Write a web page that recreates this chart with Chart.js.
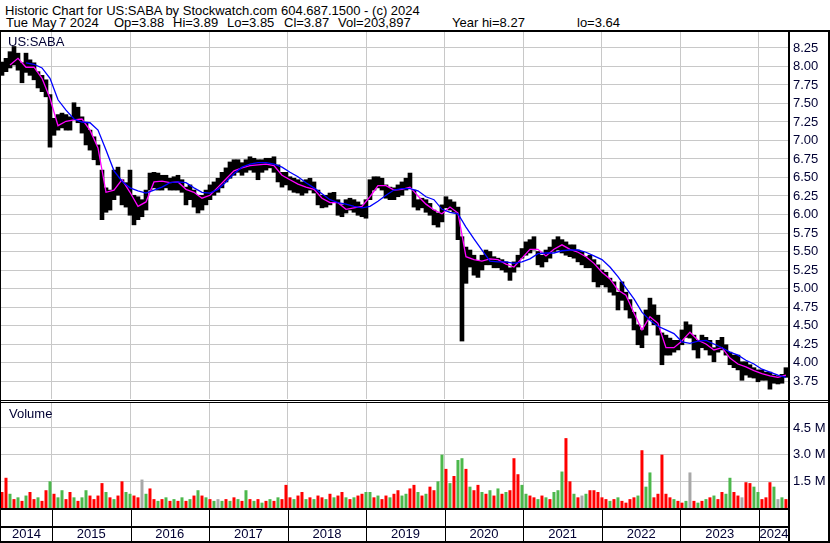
<!DOCTYPE html>
<html><head><meta charset="utf-8">
<script src="https://cdn.jsdelivr.net/npm/chart.js@4.4.1/dist/chart.umd.min.js"></script>
<style>
html,body{margin:0;padding:0;background:#fff;}
#wrap{position:relative;width:830px;height:543px;overflow:hidden;font-family:"Liberation Sans",Arial,sans-serif;}
canvas{position:absolute;left:0;}
#c1{top:30px;} #c2{top:400px;}
.t{position:absolute;white-space:pre;font-size:13px;line-height:13px;}
</style></head><body>
<div id="wrap">
<canvas id="c1" width="830" height="370"></canvas>
<canvas id="c2" width="830" height="143"></canvas>
<div class="t" style="left:5px;top:4px;color:#000">Historic Chart for US:SABA by Stockwatch.com 604.687.1500 - (c) 2024</div>
<div class="t" style="left:6px;top:16px;color:#000">Tue</div>
<div class="t" style="left:32px;top:16px;color:#000">May</div>
<div class="t" style="left:59px;top:16px;color:#000">7 2024</div>
<div class="t" style="left:114px;top:16px;color:#000">Op=3.88</div>
<div class="t" style="left:173px;top:16px;color:#000">Hi=3.89</div>
<div class="t" style="left:227px;top:16px;color:#000">Lo=3.85</div>
<div class="t" style="left:284px;top:16px;color:#000">Cl=3.87</div>
<div class="t" style="left:338px;top:16px;color:#000">Vol=203,897</div>
<div class="t" style="left:452px;top:16px;color:#000">Year hi=8.27</div>
<div class="t" style="left:577px;top:16px;color:#000">lo=3.64</div>
<div class="t" style="left:8px;top:35px;color:#000033">US:SABA</div>
<div class="t" style="left:9px;top:407px;color:#000033">Volume</div>
</div>
<script>
// ---- data ----
const startDate = 2014.3635;   // first bar (fractional year)
const barStep = 0.050916;      // years between bars
const hi = [8.06,8.11,8.20,8.27,8.18,8.05,8.18,8.09,8.05,7.93,
7.88,7.82,7.62,7.30,7.35,7.37,7.35,7.32,7.51,7.45,
7.32,7.24,7.14,7.05,6.94,6.60,6.36,6.33,6.60,6.64,
6.47,6.43,6.60,6.26,6.24,6.20,6.33,6.56,6.57,6.56,
6.53,6.53,6.49,6.51,6.53,6.47,6.37,6.40,6.33,6.26,
6.26,6.33,6.40,6.44,6.49,6.57,6.63,6.71,6.74,6.74,
6.70,6.74,6.78,6.76,6.74,6.74,6.76,6.76,6.78,6.67,
6.57,6.57,6.51,6.49,6.47,6.44,6.47,6.49,6.44,6.33,
6.26,6.26,6.29,6.30,6.20,6.13,6.20,6.22,6.20,6.17,
6.13,6.20,6.47,6.51,6.51,6.49,6.40,6.37,6.36,6.40,
6.44,6.49,6.56,6.33,6.20,6.22,6.20,6.15,6.06,6.02,
6.13,6.24,6.20,6.17,6.10,5.70,5.56,5.52,5.45,5.38,
5.45,5.52,5.50,5.43,5.41,5.39,5.36,5.28,5.36,5.45,
5.54,5.63,5.66,5.70,5.50,5.45,5.52,5.56,5.66,5.70,
5.66,5.63,5.59,5.59,5.52,5.50,5.43,5.45,5.39,5.32,
5.25,5.22,5.14,5.09,4.95,5.09,4.95,4.85,4.68,4.51,
4.44,4.71,4.87,4.78,4.64,4.40,4.37,4.33,4.30,4.30,
4.44,4.55,4.51,4.37,4.30,4.37,4.34,4.30,4.20,4.30,
4.34,4.24,4.14,4.10,4.10,4.01,4.01,3.97,3.93,3.90,
3.90,3.87,3.87,3.83,3.82,3.84,3.93];
const lo = [7.88,7.93,7.98,8.02,7.95,7.78,7.92,7.88,7.82,7.71,
7.66,7.59,6.91,7.07,7.14,7.17,7.14,7.14,7.28,7.24,
7.10,6.94,6.87,6.74,6.67,5.93,6.03,6.06,6.20,6.26,
6.13,6.10,5.99,5.86,5.93,5.97,6.06,6.33,6.36,6.33,
6.33,6.36,6.33,6.33,6.33,6.30,6.13,6.20,6.10,6.02,
6.06,6.13,6.20,6.26,6.30,6.36,6.44,6.49,6.53,6.57,
6.53,6.57,6.60,6.57,6.47,6.57,6.60,6.63,6.57,6.44,
6.37,6.40,6.33,6.30,6.29,6.26,6.29,6.33,6.29,6.13,
6.09,6.10,6.13,6.16,5.99,5.97,6.02,6.06,6.03,5.99,
5.97,5.95,6.20,6.33,6.36,6.33,6.22,6.20,6.20,6.24,
6.26,6.33,6.36,6.10,6.06,6.09,6.03,5.99,5.86,5.83,
5.90,6.09,6.06,6.03,5.66,4.29,5.07,5.29,5.18,5.15,
5.25,5.32,5.32,5.28,5.28,5.25,5.22,5.11,5.22,5.29,
5.41,5.45,5.48,5.52,5.32,5.29,5.36,5.41,5.50,5.52,
5.48,5.45,5.43,5.41,5.36,5.32,5.28,5.28,5.09,5.02,
5.05,5.02,4.95,4.91,4.71,4.84,4.71,4.60,4.44,4.24,
4.20,4.37,4.58,4.51,4.37,3.97,4.10,4.10,4.14,4.17,
4.24,4.34,4.33,4.17,4.06,4.20,4.17,4.10,4.01,4.14,
4.17,4.10,3.97,3.93,3.90,3.76,3.83,3.80,3.79,3.74,
3.76,3.76,3.64,3.72,3.71,3.72,3.80];
// long moving average (blue) and short moving average (magenta), one value per two bars
const maBlue = [null,null,null,8.05,8.03,7.98,7.84,7.55,7.41,7.29,
7.25,7.24,7.14,6.87,6.59,6.45,6.36,6.32,6.29,6.33,
6.37,6.43,6.44,6.43,6.36,6.30,6.29,6.34,6.44,6.55,
6.64,6.68,6.70,6.70,6.68,6.64,6.57,6.51,6.43,6.36,
6.28,6.20,6.16,6.14,6.11,6.09,6.11,6.18,6.26,6.33,
6.35,6.35,6.32,6.24,6.20,6.07,6.03,6.01,5.83,5.67,
5.52,5.37,5.36,5.36,5.34,5.36,5.40,5.47,5.48,5.48,
5.51,5.52,5.52,5.49,5.44,5.39,5.29,5.16,5.01,4.86,
4.68,4.57,4.49,4.44,4.39,4.28,4.26,4.29,4.30,4.25,
4.20,4.14,4.10,4.03,3.98,3.91,3.87,3.83,3.80];
const maMagenta = [null,8.02,8.11,7.99,7.99,7.84,7.57,7.20,7.26,7.28,
7.29,7.14,6.90,6.30,6.33,6.47,6.30,6.11,6.17,6.44,
6.45,6.43,6.44,6.34,6.30,6.22,6.26,6.37,6.48,6.59,
6.63,6.66,6.67,6.68,6.66,6.53,6.47,6.41,6.37,6.34,
6.22,6.16,6.16,6.07,6.09,6.11,6.24,6.39,6.39,6.33,
6.34,6.37,6.25,6.14,6.06,6.01,6.10,6.02,5.43,5.39,
5.37,5.40,5.39,5.33,5.29,5.41,5.53,5.53,5.44,5.53,
5.59,5.53,5.49,5.43,5.34,5.22,5.13,4.98,4.91,4.67,
4.44,4.62,4.53,4.20,4.20,4.29,4.41,4.30,4.25,4.17,
4.20,4.06,3.98,3.94,3.89,3.85,3.82,3.80,3.83];
// volume in millions, direction: 1 up (green), -1 down (red), 0 unchanged (grey)
const volume = [0.9,1.7,0.8,0.5,0.6,0.4,0.7,0.9,0.5,0.6,
0.4,1.0,1.5,0.8,0.6,1.0,0.5,0.9,0.6,0.4,
0.6,1.0,0.7,0.5,0.7,1.4,0.9,0.6,0.5,0.7,
1.5,0.9,0.8,0.7,0.6,1.6,0.8,1.1,0.5,0.4,
0.5,0.6,0.4,0.5,0.4,0.6,0.4,0.5,0.7,1.0,
0.7,0.6,0.5,0.4,0.5,0.4,0.5,0.4,0.6,0.5,
0.4,1.0,0.5,0.4,0.5,0.3,0.4,0.5,0.4,0.6,
0.5,1.3,0.6,0.5,0.7,0.9,0.5,0.6,0.5,0.7,
0.6,0.5,0.8,0.6,0.7,0.9,0.6,0.5,0.6,0.7,
0.8,0.9,0.9,0.6,0.7,0.5,0.7,0.6,0.8,1.0,
0.7,0.8,1.1,1.3,0.9,0.7,0.8,1.2,1.0,1.5,
3.0,2.2,1.4,1.8,2.7,2.8,2.2,1.2,1.0,1.3,
0.9,0.8,1.0,0.7,1.1,0.8,0.9,1.0,2.8,1.9,
1.3,0.8,0.7,0.6,0.5,0.7,0.6,0.5,0.9,1.0,
2.05,3.93,1.5,0.8,0.6,0.7,0.8,1.0,1.0,0.9,
0.6,0.5,0.4,0.5,0.6,0.4,0.3,0.5,0.6,0.7,
3.25,1.2,2.0,0.6,0.8,3.0,0.8,0.6,0.5,0.4,
0.3,0.4,2.0,0.4,0.3,0.4,0.5,0.6,0.7,0.5,
0.9,0.8,1.7,0.9,0.7,0.6,1.45,1.4,1.2,0.9,
0.5,0.6,1.45,1.2,0.5,0.6,0.5];
const volDir = [-1,-1,1,-1,1,-1,1,-1,-1,1,
-1,-1,1,-1,1,1,-1,-1,1,-1,
1,1,-1,-1,-1,-1,1,-1,1,-1,
-1,1,1,-1,-1,0,1,-1,-1,1,
-1,1,-1,1,-1,1,-1,1,-1,1,
-1,1,-1,1,0,1,-1,1,-1,1,
-1,1,-1,1,-1,1,-1,1,-1,1,
-1,-1,-1,1,-1,-1,1,-1,1,-1,
-1,1,-1,1,-1,-1,1,-1,1,-1,
-1,1,1,-1,1,-1,-1,1,-1,-1,
1,1,-1,-1,1,-1,1,-1,-1,1,
1,-1,1,-1,1,1,-1,1,-1,-1,
1,-1,1,-1,1,-1,1,-1,-1,-1,
1,1,-1,-1,1,-1,1,-1,1,1,
1,-1,-1,1,-1,0,1,-1,-1,-1,
-1,-1,1,-1,1,-1,-1,-1,-1,1,
-1,1,1,-1,-1,-1,-1,-1,1,-1,
-1,1,0,-1,1,-1,1,-1,1,-1,
-1,1,1,-1,-1,0,-1,-1,1,1,
-1,-1,-1,1,0,1,-1];
const priceTicks = [3.75,4.00,4.25,4.50,4.75,5.00,5.25,5.50,5.75,6.00,6.25,6.50,6.75,7.00,7.25,7.50,7.75,8.00,8.25];
const volTicks = [1.5,3.0,4.5];
const yearTicks = [2015,2016,2017,2018,2019,2020,2021,2022,2023,2024];
const yearLabels = ['2014','2015','2016','2017','2018','2019','2020','2021','2022','2023','2024'];
const X_MIN = 2014.3508, X_MAX = 2024.3819;

// ---- build ----
const dates = hi.map((_, i) => startDate + i * barStep);
const maDates = maBlue.map((_, k) => dates[2 * k]);
const FONT = '"Liberation Sans", Arial, sans-serif';
Chart.defaults.font.family = FONT;
const GRID = '#c8c8c8';
const TXT = '#000033';

function xAxis(h) {
  return {
    type: 'linear', min: X_MIN, max: X_MAX, offset: false,
    grid: { color: GRID, drawTicks: false, offset: false }, border: { display: false },
    ticks: { display: false },
    afterBuildTicks: s => { s.ticks = yearTicks.map(v => ({ value: v })); },
    afterFit: s => { s.height = h; s.paddingLeft = 0; s.paddingRight = 0; }
  };
}
function yAxis(min, max, ticks, fmt) {
  return {
    type: 'linear', position: 'right', min: min, max: max,
    grid: { color: GRID, drawTicks: false }, border: { display: false },
    ticks: { color: TXT, font: { size: 13, family: FONT }, padding: 4, autoSkip: false, callback: fmt },
    afterBuildTicks: s => { s.ticks = ticks.map(v => ({ value: v })); },
    afterFit: s => { s.width = 41; s.paddingTop = 0; s.paddingBottom = 0; }
  };
}

const framePrice = {
  id: 'framePrice',
  afterDraw(chart) {
    const c = chart.ctx, a = chart.chartArea, H = chart.height;
    c.save(); c.fillStyle = '#000';
    c.fillRect(0, 0, 830, 2);
    c.fillRect(0, 0, 1, H);
    c.fillRect(a.right - 1, 0, 2, H);
    c.fillRect(828, 0, 2, H);
    c.restore();
  }
};
const frameVol = {
  id: 'frameVol',
  afterDraw(chart) {
    const c = chart.ctx, a = chart.chartArea, H = chart.height, xs = chart.scales.x;
    c.save(); c.fillStyle = '#000';
    c.fillRect(0, 0, 830, 1);
    c.fillRect(0, 2, 830, 1);
    c.fillRect(0, a.bottom, a.right, 2);
    c.fillRect(0, a.bottom + 18, a.right, 2);
    c.fillRect(0, H - 2, 830, 2);
    c.fillRect(0, 0, 1, H);
    c.fillRect(a.right - 1, 0, 2, H);
    c.fillRect(828, 0, 2, H);
    yearTicks.forEach(v => {
      const p = Math.round(xs.getPixelForValue(v));
      c.fillRect(p, a.bottom + 2, 1, H - a.bottom - 4);
    });
    const b = [X_MIN].concat(yearTicks, [X_MAX]);
    c.fillStyle = TXT; c.font = '13px ' + FONT; c.textAlign = 'center'; c.textBaseline = 'middle';
    for (let i = 0; i < yearLabels.length; i++) {
      const cx = (xs.getPixelForValue(b[i]) + xs.getPixelForValue(b[i + 1])) / 2;
      c.fillText(yearLabels[i], cx, a.bottom + 26);
    }
    c.restore();
  }
};

new Chart(document.getElementById('c1'), {
  data: {
    datasets: [
      { type: 'line', label: 'MA long', data: maDates.map((d, k) => ({ x: d, y: maBlue[k] })),
        borderColor: '#0000ff', borderWidth: 1.3, pointRadius: 0, tension: 0, order: 1 },
      { type: 'line', label: 'MA short', data: maDates.map((d, k) => ({ x: d, y: maMagenta[k] })),
        borderColor: '#ff00ff', borderWidth: 1.3, pointRadius: 0, tension: 0, order: 2 },
      { type: 'bar', label: 'Price', data: dates.map((d, i) => ({ x: d, y: [lo[i], hi[i]] })),
        backgroundColor: '#000000', borderWidth: 0, barPercentage: 1, categoryPercentage: 1, order: 3 }
    ]
  },
  options: {
    responsive: false, animation: false, events: [],
    layout: { padding: { left: 1, right: 0, top: 2, bottom: 1 } },
    plugins: { legend: { display: false }, tooltip: { enabled: false } },
    scales: { x: xAxis(0), y: yAxis(3.507, 8.466, priceTicks, v => v.toFixed(2)) }
  },
  plugins: [framePrice]
});

new Chart(document.getElementById('c2'), {
  data: {
    datasets: [
      { type: 'bar', label: 'Volume', data: dates.map((d, i) => ({ x: d, y: volume[i] })),
        backgroundColor: volDir.map(v => v > 0 ? '#4cb84c' : (v < 0 ? '#ff0000' : '#a8a8a8')),
        borderWidth: 0, barPercentage: 0.75, categoryPercentage: 1 }
    ]
  },
  options: {
    responsive: false, animation: false, events: [],
    layout: { padding: { left: 1, right: 0, top: 3, bottom: 0 } },
    plugins: { legend: { display: false }, tooltip: { enabled: false } },
    scales: { x: xAxis(35), y: yAxis(0, 5.906, volTicks, v => v.toFixed(1) + ' M') }
  },
  plugins: [frameVol]
});
</script>
</body></html>
